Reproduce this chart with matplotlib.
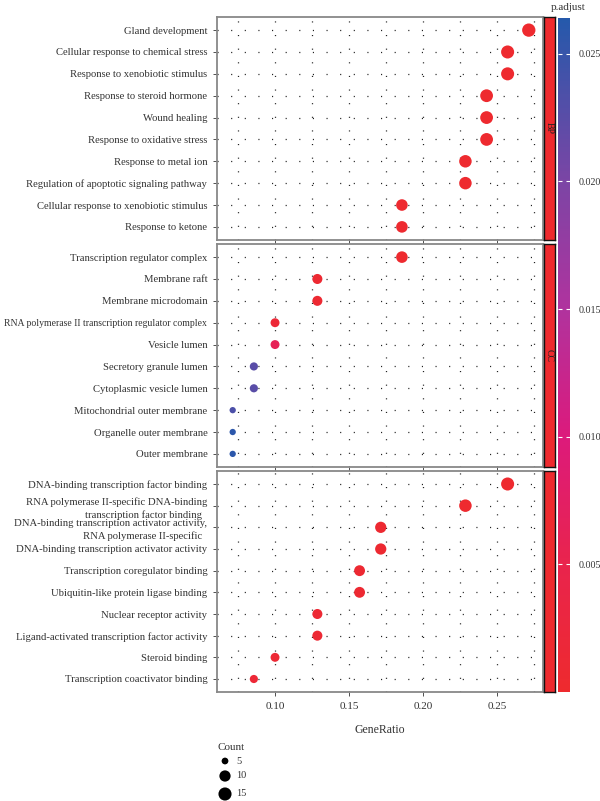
import matplotlib
matplotlib.use('Agg')
import matplotlib.pyplot as plt
import numpy as np
from matplotlib.colors import LinearSegmentedColormap, Normalize
from matplotlib.cm import ScalarMappable

plt.rcParams['font.family'] = ['Liberation Serif', 'DejaVu Serif']

# ---------------- data ----------------
bp_terms = ["Gland development", "Cellular response to chemical stress",
            "Response to xenobiotic stimulus", "Response to steroid hormone",
            "Wound healing", "Response to oxidative stress", "Response to metal ion",
            "Regulation of apoptotic signaling pathway",
            "Cellular response to xenobiotic stimulus", "Response to ketone"]
bp_ratio = [0.2714, 0.2571, 0.2571, 0.2429, 0.2429, 0.2429, 0.2286, 0.2286, 0.1857, 0.1857]
bp_count = [19, 18, 18, 17, 17, 17, 16, 16, 13, 13]
bp_padj = [0.0002, 0.0002, 0.0002, 0.0002, 0.0002, 0.0002, 0.0003, 0.0003, 0.0004, 0.0004]

cc_terms = ["Transcription regulator complex", "Membrane raft", "Membrane microdomain",
            "RNA polymerase II transcription regulator complex", "Vesicle lumen",
            "Secretory granule lumen", "Cytoplasmic vesicle lumen",
            "Mitochondrial outer membrane", "Organelle outer membrane", "Outer membrane"]
cc_ratio = [0.1857, 0.1286, 0.1286, 0.1000, 0.1000, 0.0857, 0.0857, 0.0714, 0.0714, 0.0714]
cc_count = [13, 9, 9, 7, 7, 6, 6, 5, 5, 5]
cc_padj = [0.0003, 0.0008, 0.0008, 0.0015, 0.0060, 0.0225, 0.0225, 0.0235, 0.0258, 0.0258]

mf_terms = ["DNA-binding transcription factor binding",
            "RNA polymerase II-specific DNA-binding\ntranscription factor binding  ",
            "DNA-binding transcription activator activity,\nRNA polymerase II-specific  ",
            "DNA-binding transcription activator activity",
            "Transcription coregulator binding", "Ubiquitin-like protein ligase binding",
            "Nuclear receptor activity", "Ligand-activated transcription factor activity",
            "Steroid binding", "Transcription coactivator binding"]
mf_ratio = [0.2571, 0.2286, 0.1714, 0.1714, 0.1571, 0.1571, 0.1286, 0.1286, 0.1000, 0.0857]
mf_count = [18, 16, 12, 12, 11, 11, 9, 9, 7, 6]
mf_padj = [0.0002, 0.0003, 0.0006, 0.0006, 0.0008, 0.0008, 0.0010, 0.0010, 0.0012, 0.0015]

facets = ["BP", "CC", ""]
legend_counts = [5, 10, 15]
cbar_ticks = [0.005, 0.010, 0.015, 0.020, 0.025]
xticks = [0.10, 0.15, 0.20, 0.25]

# ---------------- styles ----------------
W, H = 600, 801
fig = plt.figure(figsize=(W / 100, H / 100), dpi=100)

cmap = LinearSegmentedColormap.from_list("padj", [
    (0.00, "#ee2a2e"), (0.19, "#e9244d"), (0.38, "#dc1a7c"),
    (0.57, "#b0339e"), (0.76, "#7b45a5"), (1.00, "#2559ab")])
norm = Normalize(vmin=0.0, vmax=0.0264)

cmin, cmax = 5, 19
dmin, dmax = 6.3, 13.3  # diameters in px


def sizes(c):
    c = np.asarray(c, dtype=float)
    d = dmin + (dmax - dmin) * np.sqrt(np.clip((c - cmin) / (cmax - cmin), 0, 1))
    return (d * 0.72) ** 2


def fx(px):
    return px / W


def fy(py):
    return 1 - py / H


text_col = "#333333"
left, right = 217, 543
panels_px = [(17, 240), (244, 467), (471, 692)]
data = [(bp_terms, bp_ratio, bp_count, bp_padj),
        (cc_terms, cc_ratio, cc_count, cc_padj),
        (mf_terms, mf_ratio, mf_count, mf_padj)]

grid_x = np.arange(0.075, 0.2801, 0.025)
dot_style = dict(color="#222222", linewidth=0.9, linestyle=(0, (0.9, 10)), zorder=1)

axes = []
for i, ((top, bot), (terms, ratio, count, padj)) in enumerate(zip(panels_px, data)):
    ax = fig.add_axes([fx(left), fy(bot), fx(right - left), (bot - top) / H])
    n = len(terms)
    y = np.arange(n)
    for gx in grid_x:
        ax.axvline(gx, **dot_style)
    for yy in y:
        ax.axhline(yy, **dot_style)
    ax.scatter(ratio, y, s=sizes(count), c=padj, cmap=cmap, norm=norm,
               edgecolors="none", zorder=3)
    ax.set_xlim(0.0608, 0.281)
    ax.set_ylim(n - 1 + 0.6, -0.6)
    ax.set_yticks(y)
    ax.set_yticklabels(terms, fontsize=7.7, color=text_col)
    for lab in ax.get_yticklabels():
        lab.set_linespacing(1.45)
        if lab.get_text().startswith("RNA polymerase II transcription"):
            lab.set_fontsize(7.0)
    ax.set_xticks(xticks)
    if i == 2:
        ax.set_xticklabels([f"{t:.2f}" for t in xticks], fontsize=8, color=text_col)
    else:
        ax.set_xticklabels([])
        ax.tick_params(axis='x', length=0)
    ax.tick_params(axis='both', color="#333333", length=3, width=0.6, pad=4)
    for sp in ax.spines.values():
        sp.set_color("#888888")
        sp.set_linewidth(1.3)
    axes.append(ax)

    # strip
    sax = fig.add_axes([fx(544), fy(bot), fx(11), (bot - top) / H])
    sax.set_facecolor("#ee2a2e")
    sax.set_xticks([])
    sax.set_yticks([])
    for sp in sax.spines.values():
        sp.set_color("#111111")
        sp.set_linewidth(1.0)
    if facets[i]:
        sax.text(0.5, 0.5, facets[i], rotation=-90, ha='center', va='center',
                 fontsize=7, color="#222222", transform=sax.transAxes)

fig.text(fx(380), fy(730), "GeneRatio", ha='center', va='center', fontsize=8.5, color=text_col)

# colorbar
cax = fig.add_axes([fx(558), fy(692), fx(12), (692 - 18) / H])
sm = ScalarMappable(norm=norm, cmap=cmap)
cb = fig.colorbar(sm, cax=cax, ticks=cbar_ticks)
cb.outline.set_visible(False)
cb.ax.set_yticklabels([f"{t:.3f}" for t in cbar_ticks], fontsize=7.2, color=text_col)
cb.ax.tick_params(direction='in', color='white', length=3, width=0.8, left=True, right=True, pad=6)
fig.text(fx(568), fy(7), "p.adjust", ha='center', va='center', fontsize=8, color=text_col)

# size legend
lax = fig.add_axes([0, 0, 1, 1], facecolor='none')
lax.set_xlim(0, W)
lax.set_ylim(H, 0)
lax.axis('off')
lax.text(218, 748, "Count", ha='left', va='center', fontsize=8, color=text_col)
leg_y = [761, 776, 794]
lax.scatter([225] * len(legend_counts), leg_y, s=sizes(legend_counts) * 1.15, c="black",
            edgecolors="none")
for yy, c in zip(leg_y, legend_counts):
    lax.text(236, yy, str(c), ha='left', va='center', fontsize=7.5, color=text_col)

fig.savefig("out.png", dpi=100)
